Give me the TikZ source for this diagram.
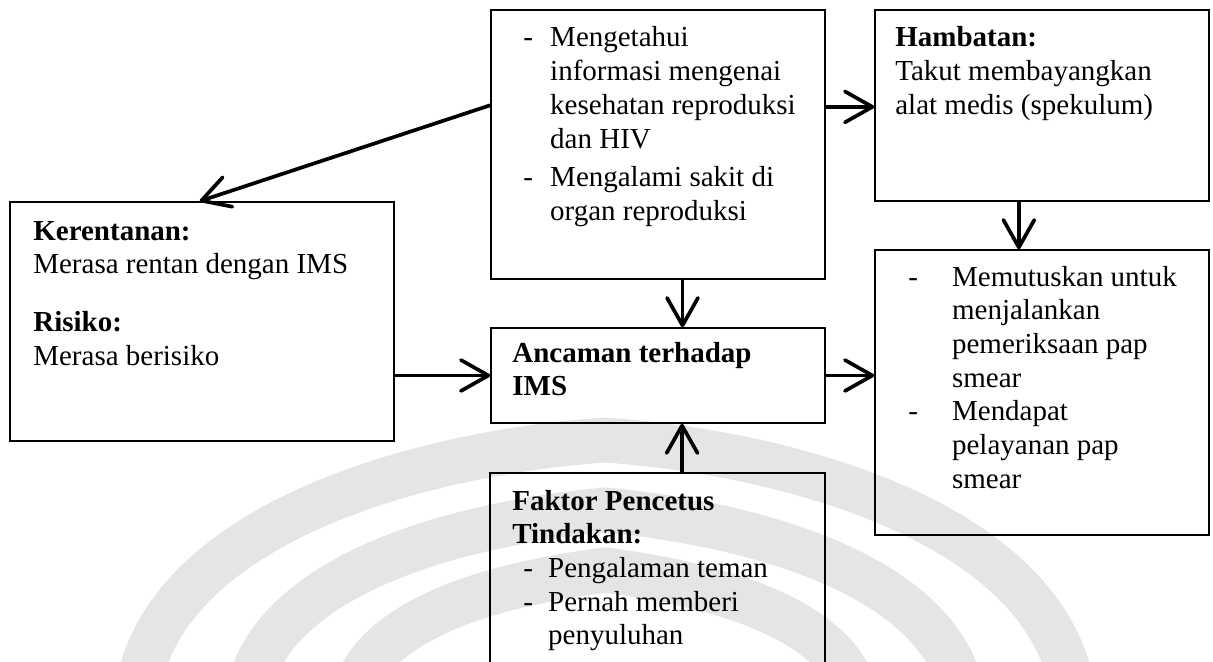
\documentclass[tikz,border=0pt]{standalone}
\usepackage{fontspec}
\setmainfont{Liberation Serif}
\usetikzlibrary{arrows.meta,calc,fit}

\begin{document}
\begin{tikzpicture}[x=0.02cm, y=-0.02cm,
  box/.style={draw, line width=0.9pt, inner sep=0pt},
  txt/.style={anchor=base west, inner sep=0pt, font=\fontsize{16.5}{19.2}\selectfont},
  link/.style={line width=2.1pt, -{Straight Barb[length=0.55cm, width=0.62cm, round]}},
  water/.style={line width=0.9cm, black!10}]
  \useasboundingbox (0,0) rectangle (1213,662);
  \clip (0,0) rectangle (1213,662);

  % watermark
  \draw[water] (135,720) .. controls (135,538) and (394,455) .. (605,440)
    .. controls (816,455) and (1075,538) .. (1075,720);
  \draw[water] (245,720) .. controls (245,583) and (443,525) .. (605,510)
    .. controls (767,525) and (965,583) .. (965,720);
  \draw[water] (350,720) .. controls (350,622) and (490,585) .. (605,570)
    .. controls (720,585) and (860,622) .. (860,720);

  % boxes
  \node[box, fit={(491,10) (825,279)}] (info) {};
  \node[box, fit={(875,10) (1209,201)}] (ham) {};
  \node[box, fit={(10,202) (394,441)}] (kr) {};
  \node[box, fit={(491,328) (825,423)}] (anc) {};
  \node[box, fit={(490,473) (825,700)}] (fak) {};
  \node[box, fit={(875,250) (1209,535)}] (act) {};

  % texts
  \node[txt] (infotxt) at (523,47) {\begin{tabular}[t]{@{}p{15.3pt}@{}l@{}}
    -&Mengetahui\\ &informasi mengenai\\ &kesehatan reproduksi\\ &dan HIV\\[2.8pt]
    -&Mengalami sakit di\\ &organ reproduksi\end{tabular}};
  \node[txt] (hamtxt) at (895,47) {\begin{tabular}[t]{@{}l@{}}
    \textbf{Hambatan:}\\ Takut membayangkan\\ alat medis (spekulum)\end{tabular}};
  \node[txt] (krtxt) at (33,240) {\begin{tabular}[t]{@{}l@{}}
    \textbf{Kerentanan:}\\ Merasa rentan dengan IMS\\[13.6pt] \textbf{Risiko:}\\ Merasa berisiko\end{tabular}};
  \node[txt] (anctxt) at (512,362) {\begin{tabular}[t]{@{}l@{}}
    \textbf{Ancaman terhadap}\\ \textbf{IMS}\end{tabular}};
  \node[txt] (faktxt) at (512,510) {\begin{tabular}[t]{@{}p{6.2pt}@{}p{14.2pt}@{}l@{}}
    \multicolumn{3}{@{}l@{}}{\textbf{Faktor Pencetus}}\\
    \multicolumn{3}{@{}l@{}}{\textbf{Tindakan:}}\\
    &-&Pengalaman teman\\ &-&Pernah memberi\\ &&penyuluhan\end{tabular}};
  \node[txt] (acttxt) at (908,286) {\begin{tabular}[t]{@{}p{24.9pt}@{}l@{}}
    -&Memutuskan untuk\\ &menjalankan\\ &pemeriksaan pap\\ &smear\\
    -&Mendapat\\ &pelayanan pap\\ &smear\end{tabular}};

  % arrows
  \coordinate (infoW) at ($(info.north west)!0.355!(info.south west)$);
  \coordinate (infoE) at ($(info.north east)!0.361!(info.south east)$);
  \coordinate (infoS) at ($(info.south west)!0.573!(info.south east)$);
  \coordinate (hamS) at ($(ham.south west)!0.431!(ham.south east)$);
  \coordinate (fakN) at ($(fak.north west)!0.573!(fak.north east)$);
  \draw[link] (infoW) -- ($(kr.north west)!0.494!(kr.north east)$);
  \draw[link] (infoE) -- (infoE -| ham.west);
  \draw[link] (hamS) -- (hamS |- act.north);
  \draw[link] (infoS) -- (infoS |- anc.north);
  \draw[link] (anc.west -| kr.east) -- (anc.west);
  \draw[link] (anc.east) -- (anc.east -| act.west);
  \draw[link] (fakN) -- (fakN |- anc.south);
\end{tikzpicture}
\end{document}
